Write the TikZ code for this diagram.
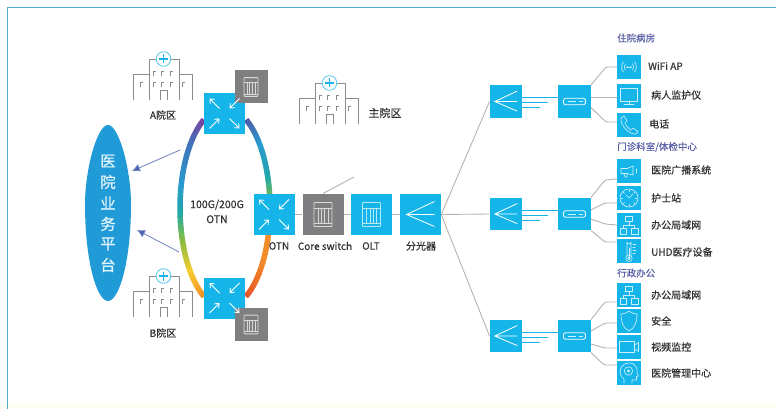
\documentclass[tikz,border=0pt]{standalone}
\usepackage{fontspec}
\setmainfont{Noto Sans CJK SC}[RawFeature={embolden=0.35}]
\usetikzlibrary{arrows.meta,calc}
\definecolor{cy}{HTML}{15B5EA}
\definecolor{gy}{HTML}{7F7F81}
\definecolor{lk}{HTML}{B4B4B4}
\definecolor{tx}{HTML}{303030}
\definecolor{ttl}{HTML}{5C62A8}
\definecolor{hs}{HTML}{8C8C8C}
\definecolor{plat}{HTML}{219BD8}
\definecolor{arr}{HTML}{4A62B0}
\definecolor{frm}{HTML}{4FA8D8}
\tikzset{
  x=1pt,y=-1pt,
  bigbox/.style={fill=cy,minimum size=41pt,inner sep=0pt,draw=none},
  graybox/.style={fill=gy,minimum size=41pt,inner sep=0pt,draw=none},
  smallgray/.style={fill=gy,minimum size=32pt,inner sep=0pt,draw=none},
  midbox/.style={fill=cy,minimum size=32.5pt,inner sep=0pt,draw=none},
  devbox/.style={fill=cy,minimum width=24pt,minimum height=24pt,inner sep=0pt,draw=none},
  lbl/.style={text=tx,font=\fontsize{10}{12}\selectfont,inner sep=0pt},
  rlbl/.style={lbl,anchor=west},
  ttlstyle/.style={text=ttl,font=\fontsize{9.5}{12}\selectfont,inner sep=0pt,anchor=west},
  plink/.style={draw=lk,line width=0.9pt},
  blink/.style={draw=cy,line width=1pt},
  ico/.style={draw=white!78!cy,line width=0.65pt,line join=round,line cap=round},
  pics/swicon/.style={code={
    \begin{scope}[draw=white,line width=0.9pt,-{Straight Barb[length=3.5pt,width=6pt]}]
      \draw (-5,-5) -- (-15,-15);
      \draw (15,-15) -- (5,-5);
      \draw (-15,15) -- (-5,5);
      \draw (5,5) -- (15,15);
    \end{scope}}},
  pics/rackicon/.style={code={
    \draw[draw=white!70!gray,line width=0.8pt,rounded corners=0.8pt] (-9,-12) rectangle (9,12);
    \draw[draw=white!70!gray,line width=0.6pt] (-9,-6) -- (9,-6) (-9,9) -- (9,9)
      (-5,-6) -- (-5,9) (-1.7,-6) -- (-1.7,9) (1.7,-6) -- (1.7,9) (5,-6) -- (5,9);}},
  pics/rackiconb/.style={code={
    \draw[draw=white!70!cy,line width=0.8pt,rounded corners=0.8pt] (-9,-12) rectangle (9,12);
    \draw[draw=white!70!cy,line width=0.6pt] (-9,-6) -- (9,-6) (-9,9) -- (9,9)
      (-5,-6) -- (-5,9) (-1.7,-6) -- (-1.7,9) (1.7,-6) -- (1.7,9) (5,-6) -- (5,9);}},
  pics/spliticon/.style={code={
    \draw[draw=white,line width=0.8pt] (14,-13) -- (-14,0) -- (14,12) (-14,0) -- (14,0);}},
  pics/modemicon/.style={code={
    \draw[draw=white,line width=0.8pt,rounded corners=2pt] (-11,-3.2) rectangle (11,3.2);
    \draw[draw=white!80!cy,line width=0.6pt] (-7,0) -- (1,0) (4,0) -- (8,0);}},
  pics/hospital/.style={code={
    \begin{scope}[draw=hs,line width=0.7pt]
      \draw (-29.5,24) -- (-29.5,-2) -- (-14,-2);
      \draw (-14,24) -- (-14,-17) -- (16,-17) -- (16,24);
      \draw (16,-2) -- (29.5,-2) -- (29.5,24);
      \foreach \wx/\wy in {-10/-5,-2/-5,7/-5,-10/6,-2/6,7/6,-23/6,19/6}
        \draw (\wx,\wy+5) -- (\wx,\wy) -- (\wx+3,\wy);
      \draw (-3,24) -- (-3,14) -- (4,14) -- (4,24);
    \end{scope}
    \draw[draw=cy!70!white,fill=white,line width=0.8pt] (0.5,-17) circle (7.3);
    \draw[draw=cy,line width=1.4pt] (-4,-17) -- (5,-17) (0.5,-21.5) -- (0.5,-12.5);}},
  pics/wifiicon/.style={code={
    \draw[ico] (-1.5,0) -- (1.5,0);
    \fill[white!80!cy] (-2,0) circle (0.9) (2,0) circle (0.9);
    \draw[ico] (3.6,-3.2) .. controls (5.2,-1.5) and (5.2,1.5) .. (3.6,3.2);
    \draw[ico] (-3.6,-3.2) .. controls (-5.2,-1.5) and (-5.2,1.5) .. (-3.6,3.2);
    \draw[ico] (5.6,-5) .. controls (8,-2) and (8,2) .. (5.6,5);
    \draw[ico] (-5.6,-5) .. controls (-8,-2) and (-8,2) .. (-5.6,5);}},
  pics/monitoricon/.style={code={
    \draw[ico] (-8.5,-7.5) rectangle (8.5,5);
    \draw[ico] (0,5) -- (0,8) (-5,8.5) -- (5,8.5);}},
  pics/phoneicon/.style={code={
    \draw[ico] (-8,-7) -- (-5,-9) -- (-2,-4) -- (-4,-2) .. controls (-3,1) and (0,4) .. (2,5)
       -- (4,3) -- (9,6.5) -- (7,9) .. controls (1,10) and (-9,1) .. (-8,-7) -- cycle;}},
  pics/hornicon/.style={code={
    \draw[ico] (-8,-2.5) -- (-2,-2.5) -- (4,-5) -- (4,4) -- (-2,2.5) -- (-8,2.5) -- cycle;
    \draw[ico] (-5,2.5) -- (-4,6) (-4,6) -- (-2,6) -- (-2,2.5);
    \draw[ico] (7,-2) -- (7,2);}},
  pics/clockicon/.style={code={
    \draw[ico] (0,0) circle (9);
    \draw[ico] (0,0) -- (4,-4) (0,0) -- (-3,-3);
    \foreach \ca in {0,45,...,315}
      \draw[ico] (\ca:6.5) -- (\ca:8);}},
  pics/neticon/.style={code={
    \draw[ico] (-3.5,-9) rectangle (3.5,-3.5);
    \draw[ico] (-9,3.5) rectangle (-2.5,9);
    \draw[ico] (2.5,3.5) rectangle (9,9);
    \draw[ico] (0,-3.5) -- (0,0) (-5.75,3.5) -- (-5.75,0) -- (5.75,0) -- (5.75,3.5);}},
  pics/thermoicon/.style={code={
    \draw[ico] (-2,5) -- (-2,-9) arc[start angle=180,end angle=0,radius=2] -- (2,5);
    \draw[ico] (0,7.4) circle (3.2);
    \fill[white!80!cy] (0,7.4) circle (1.8);
    \draw[ico] (0,6) -- (0,-3);
    \draw[ico] (4,-7) -- (7,-7) (4,-4) -- (6,-4) (4,-1) -- (7,-1) (4,2) -- (6,2);}},
  pics/shieldicon/.style={code={
    \draw[ico] (0,-10) .. controls (-3,-7.5) and (-6,-7) .. (-8,-7) .. controls (-8,1) and (-6,7) .. (0,10)
       .. controls (6,7) and (8,1) .. (8,-7) .. controls (6,-7) and (3,-7.5) .. (0,-10) -- cycle;}},
  pics/camicon/.style={code={
    \draw[ico] (-10,-5.5) rectangle (5,5.5);
    \draw[ico] (5,-1.5) -- (9.5,-4.5) -- (9.5,4.5) -- (5,1.5);}},
  pics/headicon/.style={code={
    \draw[ico] (-5,10) -- (-5,6) .. controls (-12,1) and (-9,-10) .. (0,-10)
       .. controls (7,-10) and (9,-4) .. (8,0) -- (9.5,3) -- (7.5,3.5) -- (7.5,7) -- (3,7) -- (3,10);
    \draw[ico] (-0.5,-2) circle (4.2);
    \fill[white!80!cy] (-0.5,-2) circle (1.7);}},
}
\begin{document}
\begin{tikzpicture}
\useasboundingbox (0,0) rectangle (776,409);
\fill[white] (0,0) rectangle (776,409);
\fill[yellow!5!white] (0,404) rectangle (776,409);
\draw[draw=frm,line width=1.6pt] (776,7.5) -- (7.5,7.5) -- (7.5,409);

% ring
\def\ringseg#1#2#3#4{%
  \foreach \k in {0,...,11}{%
    \pgfmathsetmacro\ta{#1+(#2-#1)*\k/12}%
    \pgfmathsetmacro\tb{#1+(#2-#1)*(\k+1.15)/12}%
    \pgfmathsetmacro\mixv{100-100*\k/12}%
    \draw[draw=#3!\mixv!#4,line width=5.5pt]
      ({225+45*cos(\ta)},{208-100*sin(\ta)}) -- ({225+45*cos(\tb)},{208-100*sin(\tb)});
  }}
\definecolor{ra}{HTML}{7C3F9E}\definecolor{rb}{HTML}{3D73B8}\definecolor{rc}{HTML}{2A9AD0}
\definecolor{rd}{HTML}{1FA8A8}\definecolor{re}{HTML}{86BC42}\definecolor{rf}{HTML}{F6CB2E}
\definecolor{rg}{HTML}{F28C28}\definecolor{rh}{HTML}{E8502A}\definecolor{ri}{HTML}{4C5AA8}
\ringseg{118}{140}{ra}{rb}
\ringseg{140}{165}{rb}{rc}
\ringseg{165}{182}{rc}{rd}
\ringseg{182}{198}{rd}{re}
\ringseg{198}{218}{re}{rf}
\ringseg{218}{242}{rf}{rg}
\ringseg{62}{40}{ri}{rc}
\ringseg{40}{18}{rc}{rd}
\ringseg{18}{5}{rd}{re}
\ringseg{-12}{-30}{rg}{rg}
\ringseg{-30}{-62}{rg}{rh}

% main nodes
\node[bigbox] (swA) at (224.5,113.5) {};
\node[smallgray,minimum size=33pt] (gA) at (251,87) {};
\node[bigbox] (swB) at (224.5,298) {};
\node[smallgray,minimum size=33pt] (gB) at (251,324.5) {};
\node[bigbox] (otn) at (274,214.5) {};
\node[graybox] (core) at (323,214.5) {};
\node[bigbox] (olt) at (371.5,214.5) {};
\node[bigbox] (spl) at (420.5,214.5) {};
\coordinate (tail) at (354,177);
\coordinate (coretop) at (323,193.5);

\node[midbox] (s1) at (506,101.5) {};
\node[midbox] (s2) at (506,214) {};
\node[midbox] (s3) at (506,336) {};
\node[midbox] (m1) at (574.5,101.5) {};
\node[midbox] (m2) at (574.5,214) {};
\node[midbox] (m3) at (574.5,336) {};

\node[devbox] (d1) at (629,67) {};
\node[devbox] (d2) at (629,96) {};
\node[devbox] (d3) at (629,125) {};
\node[devbox] (d4) at (629,171) {};
\node[devbox] (d5) at (629,198) {};
\node[devbox] (d6) at (629,225) {};
\node[devbox] (d7) at (629,251) {};
\node[devbox] (d8) at (629,295) {};
\node[devbox] (d9) at (629,321) {};
\node[devbox] (d10) at (629,347) {};
\node[devbox] (d11) at (629,373) {};

% icons
\pic at (swA) {swicon};
\pic at (swB) {swicon};
\pic at (otn) {swicon};
\pic[scale=0.78] at (gA) {rackicon};
\pic[scale=0.78] at (gB) {rackicon};
\pic at (core) {rackicon};
\pic at (olt) {rackiconb};
\pic at (spl) {spliticon};
\pic[scale=0.8] at (s1) {spliticon};
\pic[scale=0.8] at (s2) {spliticon};
\pic[scale=0.8] at (s3) {spliticon};
\pic at (m1) {modemicon};
\pic at (m2) {modemicon};
\pic at (m3) {modemicon};
\pic at (d1) {wifiicon};
\pic at (d2) {monitoricon};
\pic at (d3) {phoneicon};
\pic at (d4) {hornicon};
\pic at (d5) {clockicon};
\pic at (d6) {neticon};
\pic at (d7) {thermoicon};
\pic at (d8) {neticon};
\pic at (d9) {shieldicon};
\pic at (d10) {camicon};
\pic at (d11) {headicon};

% hospitals
\coordinate (hA) at (163,76);
\coordinate (hB) at (163,293);
\coordinate (hM) at (329,100);
\pic at (hA) {hospital};
\pic at (hB) {hospital};
\pic at (hM) {hospital};

% grey links
\draw[plink] (otn) -- (core) (core) -- (olt) (olt) -- (spl);
\draw[plink] (coretop) -- (tail);
\draw[plink] (spl.east) -- (s1.west);
\draw[plink] (spl.east) -- (s2.west);
\draw[plink] (spl.east) -- (s3.west);

% triple cyan lines
\foreach \i in {1,2,3}{
  \draw[blink] ($(s\i.east)+(0,-4)$) -- ($(m\i.west)+(0,-4)$);
  \draw[blink] ($(s\i.east)+(0,1)$) -- ++(26,0);
  \draw[blink] ($(s\i.east)+(0,6)$) -- ++(18,0);
}

% device links
\tikzset{dlink/.style={plink,rounded corners=1.5pt}}
\draw[dlink] (m1.north east) -- (606,67) -- (d1.west);
\draw[dlink] ($(m1.east)+(0,-4.5)$) -- ($(d2.west)+(0,1)$);
\draw[dlink] ($(m1.east)+(0,6)$) -- (606,122) -- ($(d3.west)+(0,-3)$);
\draw[dlink] (m2.north east) -- (605,180) -- ($(d4.west)+(0,8)$);
\draw[dlink] (m2.east |- 0,210) -- (605,203) -- ($(d5.west)+(0,5)$);
\draw[dlink] (m2.east |- 0,219) -- (605,224) -- (d6.west);
\draw[dlink] (m2.south east) -- (605,242) -- ($(d7.west)+(0,-9)$);
\draw[dlink] (m3.north east) -- (605,302) -- ($(d8.west)+(0,7)$);
\draw[dlink] (m3.east |- 0,331) -- (605,323) -- ($(d9.west)+(0,2)$);
\draw[dlink] (m3.east |- 0,344) -- (605,348) -- ($(d10.west)+(0,1)$);
\draw[dlink] (m3.south east) -- (604,365) -- ($(d11.west)+(0,-8)$);

% platform
\fill[plat] (108,125) .. controls (119,125) and (131,170) .. (131,204)
   .. controls (131,262) and (119,301) .. (108,301)
   .. controls (97,301) and (85,262) .. (85,204)
   .. controls (85,170) and (97,125) .. (108,125) -- cycle;
\path[font=\fontsize{15.5}{18}\selectfont,text=white!88!cy,inner sep=0pt]
  (108,161) node (p1) {医} (108,182) node (p2) {院} (108,203) node (p3) {业}
  (108,224) node (p4) {务} (108,244) node (p5) {平} (108,265) node (p6) {台};
\coordinate (a1s) at (180,150);
\coordinate (a1e) at (132,171);
\coordinate (a2s) at (179,252);
\coordinate (a2e) at (137,230);
\draw[draw=arr!80!white,line width=0.8pt,-{Latex[length=8pt,width=8pt,fill=arr]}] (a1s) -- (a1e);
\draw[draw=arr!80!white,line width=0.8pt,-{Latex[length=8pt,width=8pt,fill=arr]}] (a2s) -- (a2e);

% labels
\node[lbl] (lA) at (163,115) {A院区};
\node[lbl] (lB) at (163,333) {B院区};
\node[lbl,font=\fontsize{11}{13}\selectfont] (lM) at (385,113) {主院区};
\node[lbl,align=center,font=\fontsize{10.5}{15}\selectfont] (lO) at (217,211.5) {100G/200G\\OTN};
\node[lbl] (l1) at (279,246) {OTN};
\node[lbl] (l2) at (325,246) {Core switch};
\node[lbl] (l3) at (371,246) {OLT};
\node[lbl] (l4) at (421,246) {分光器};

\node[ttlstyle] (t1) at (617,38) {住院病房};
\node[ttlstyle] (t2) at (617,147) {门诊科室/体检中心};
\node[ttlstyle] (t3) at (617,273) {行政办公};
\node[rlbl] (r1) at (648,66) {WiFi AP};
\node[rlbl] (r2) at (651,95) {病人监护仪};
\node[rlbl] (r3) at (649,124) {电话};
\node[rlbl] (r4) at (651,170) {医院广播系统};
\node[rlbl] (r5) at (651,198) {护士站};
\node[rlbl] (r6) at (651,225) {办公局域网};
\node[rlbl] (r7) at (651,252) {UHD医疗设备};
\node[rlbl] (r8) at (651,295) {办公局域网};
\node[rlbl] (r9) at (651,321) {安全};
\node[rlbl] (r10) at (651,347) {视频监控};
\node[rlbl] (r11) at (651,373) {医院管理中心};
\end{tikzpicture}
\end{document}
